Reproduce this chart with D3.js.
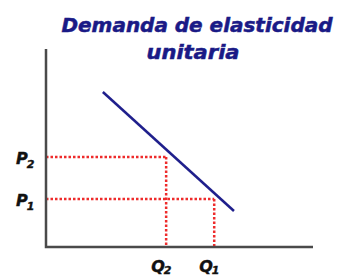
<!DOCTYPE html>
<html>
<head>
<meta charset="utf-8">
<script src="https://cdn.jsdelivr.net/npm/d3@7"></script>
<style>
  body { margin: 0; background: #fff; }
  .title { font-family: 'DejaVu Sans', Verdana, sans-serif; font-weight: bold; font-style: italic; fill: #1a1a86; stroke: #1a1a86; stroke-width: 0.5px; }
  .lbl { font-family: 'DejaVu Sans', Verdana, sans-serif; font-weight: bold; font-style: italic; fill: #111; stroke: #111; stroke-width: 0.4px; }
</style>
</head>
<body>
<div id="chart"></div>
<script>
  // chart values (axis units 0..10)
  var titleLines = ['Demanda de elasticidad', 'unitaria'];
  var demand = [{q: 2.13, p: 7.83}, {q: 7.04, p: 1.82}];
  var points = [
    {q: 4.5, p: 4.55, qLabel: 'Q', pLabel: 'P', sub: '2'},
    {q: 6.3, p: 2.42, qLabel: 'Q', pLabel: 'P', sub: '1'}
  ];

  var width = 340, height = 279;
  var margin = {top: 49, right: 27, bottom: 32, left: 46};

  var svg = d3.select('#chart').append('svg')
    .attr('width', width)
    .attr('height', height);

  var x = d3.scaleLinear().domain([0, 10]).range([margin.left, width - margin.right]);
  var y = d3.scaleLinear().domain([0, 10]).range([height - margin.bottom, margin.top]);

  // title
  svg.append('text').attr('class', 'title')
    .attr('x', 197).attr('y', 32)
    .attr('text-anchor', 'middle')
    .style('font-size', '19px')
    .attr('textLength', 271).attr('lengthAdjust', 'spacingAndGlyphs')
    .text(titleLines[0]);
  svg.append('text').attr('class', 'title')
    .attr('x', 193).attr('y', 59)
    .attr('text-anchor', 'middle')
    .style('font-size', '19px')
    .attr('textLength', 93).attr('lengthAdjust', 'spacingAndGlyphs')
    .text(titleLines[1]);

  // guide lines
  var guides = svg.append('g')
    .attr('stroke', '#ee2b2b')
    .attr('stroke-width', 2.5)
    .attr('stroke-dasharray', '2.5,2')
    .attr('fill', 'none');

  points.forEach(function(d) {
    guides.append('line')
      .attr('x1', x(0)).attr('x2', x(d.q))
      .attr('y1', y(d.p)).attr('y2', y(d.p));
    guides.append('line')
      .attr('x1', x(d.q)).attr('x2', x(d.q))
      .attr('y1', y(d.p)).attr('y2', y(0));
  });

  // demand curve
  svg.append('path')
    .datum(demand)
    .attr('fill', 'none')
    .attr('stroke', '#1f1f8c')
    .attr('stroke-width', 2.5)
    .attr('d', d3.line().x(function(d) { return x(d.q); }).y(function(d) { return y(d.p); }));

  // axes
  svg.append('path')
    .attr('fill', 'none')
    .attr('stroke', '#4a4a4a')
    .attr('stroke-width', 2.5)
    .attr('d', 'M' + x(0) + ',' + y(10) + 'V' + y(0) + 'H' + x(10));

  // labels
  points.forEach(function(d) {
    var tp = svg.append('text').attr('class', 'lbl')
      .attr('x', x(0) - 30).attr('y', y(d.p) + 7)
      .style('font-size', '16px');
    tp.append('tspan').text(d.pLabel);
    tp.append('tspan').attr('dy', 4).attr('dx', -1).style('font-size', '11px').text(d.sub);

    var tq = svg.append('text').attr('class', 'lbl')
      .attr('x', x(d.q) - 15).attr('y', y(0) + 25)
      .style('font-size', '16px');
    tq.append('tspan').text(d.qLabel);
    tq.append('tspan').attr('dy', 2).attr('dx', -1).style('font-size', '11px').text(d.sub);
  });
</script>
</body>
</html>
